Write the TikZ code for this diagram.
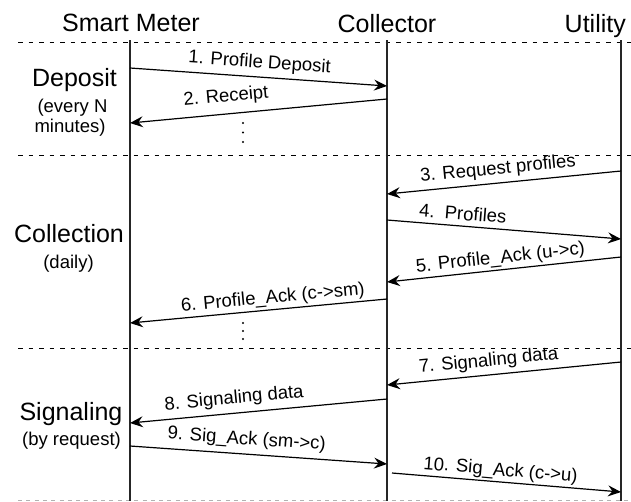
\documentclass[tikz,border=0pt]{standalone}
\usepackage{fontspec}
\setmainfont{Liberation Sans}
\usetikzlibrary{arrows.meta}
\begin{document}
\begin{tikzpicture}[x=1pt,y=-1pt,
  big/.style={font=\fontsize{25}{30}\selectfont, inner sep=0pt, anchor=base},
  small/.style={font=\fontsize{18.5}{22}\selectfont, inner sep=0pt, anchor=base},
  lifeline/.style={line width=1.5pt, draw=black!85},
  divider/.style={line width=1pt, dash pattern=on 4.5pt off 6pt},
  lastdivider/.style={line width=1pt, draw=black!30, dash pattern=on 4pt off 4.3pt},
  msg/.style={line width=1.2pt, -{Stealth[length=13pt,width=11pt,inset=4.5pt]}},
  lbl/.style={sloped, anchor=south, text depth=0pt, inner xsep=0pt, inner ysep=#1,
    font=\fontsize{18.5}{22}\selectfont},
  lbl/.default=8.5pt,
  dot/.style={circle, fill, inner sep=0pt, minimum size=2.4pt}
]
\useasboundingbox (0,0) rectangle (631,501);

% participants
\node[big] (hsm) at (131,31) {Smart Meter};
\node[big] (hcol) at (387,32) {Collector};
\node[big, anchor=base east] (hutil) at (626,32) {Utility};

% phase dividers
\coordinate (d1a) at (18,42);  \coordinate (d1b) at (631,42);
\coordinate (d2a) at (18,155); \coordinate (d2b) at (631,155);
\coordinate (d3a) at (18,348); \coordinate (d3b) at (631,348);
\coordinate (d4a) at (18,500); \coordinate (d4b) at (631,500);
\draw[divider] (d1a) -- (d1b);
\draw[divider] (d2a) -- (d2b);
\draw[divider] (d3a) -- (d3b);
\draw[lastdivider] (d4a) -- (d4b);

% lifelines
\coordinate (smTop) at (130,40);   \coordinate (smBot) at (130,501);
\coordinate (colTop) at (387,40);  \coordinate (colBot) at (387,501);
\coordinate (utTop) at (621,40);   \coordinate (utBot) at (621,501);
\draw[lifeline] (smTop) -- (smBot);
\draw[lifeline] (colTop) -- (colBot);
\draw[lifeline] (utTop) -- (utBot);

% phase names
\node[big] (pdep) at (74.5,86) {Deposit};
\node[small] (pdep1) at (72.5,112) {(every N};
\node[small] (pdep2) at (70,132) {minutes)};
\node[big] (pcol) at (69,242) {Collection};
\node[small] (pcol1) at (68.5,268) {(daily)};
\node[big] (psig) at (71,420) {Signaling};
\node[small] (psig1) at (71.5,445) {(by request)};

% message end points
\coordinate (m1s) at (130,68);  \coordinate (m1e) at (387,86);
\coordinate (m2s) at (387,99);  \coordinate (m2e) at (130,123);
\coordinate (m3s) at (621,171); \coordinate (m3e) at (387,194);
\coordinate (m4s) at (387,220); \coordinate (m4e) at (621,239);
\coordinate (m5s) at (621,257); \coordinate (m5e) at (387,282);
\coordinate (m6s) at (387,299); \coordinate (m6e) at (130,323);
\coordinate (m7s) at (621,362); \coordinate (m7e) at (387,385);
\coordinate (m8s) at (387,399); \coordinate (m8e) at (130,423);
\coordinate (m9s) at (130,446); \coordinate (m9e) at (387,464);
\coordinate (m10s) at (392,473); \coordinate (m10e) at (621,492);

% messages
\draw[msg] (m1s) -- node[lbl, pos=0.5] (l1) {1. Profile Deposit} (m1e);
\draw[msg] (m2s) -- node[lbl=11.5pt, pos=0.62] (l2) {2. Receipt} (m2e);
\draw[msg] (m3s) -- node[lbl, pos=0.52] (l3) {3. Request profiles} (m3e);
\draw[msg] (m4s) -- node[lbl=5.5pt, pos=0.32] (l4) {4.\ \ Profiles} (m4e);
\draw[msg] (m5s) -- node[lbl=6pt, pos=0.51] (l5) {5. Profile\_Ack (u->c)} (m5e);
\draw[msg] (m6s) -- node[lbl=6pt, pos=0.44] (l6) {6. Profile\_Ack (c->sm)} (m6e);
\draw[msg] (m7s) -- node[lbl=8.3pt, pos=0.56] (l7) {7. Signaling data} (m7e);
\draw[msg] (m8s) -- node[lbl=9pt, pos=0.59] (l8) {8. Signaling data} (m8e);
\draw[msg] (m9s) -- node[lbl=9pt, pos=0.45] (l9) {9. Sig\_Ack (sm->c)} (m9e);
\draw[msg] (m10s) -- node[lbl=5.7pt, pos=0.47] (l10) {10. Sig\_Ack (c->u)} (m10e);

% continuation marks
\node[dot] (e1a) at (243,123) {};
\node[dot] (e1b) at (243,132.5) {};
\node[dot] (e1c) at (243,142) {};
\node[dot] (e2a) at (243,323) {};
\node[dot] (e2b) at (243,331) {};
\node[dot] (e2c) at (243,339) {};
\end{tikzpicture}
\end{document}
